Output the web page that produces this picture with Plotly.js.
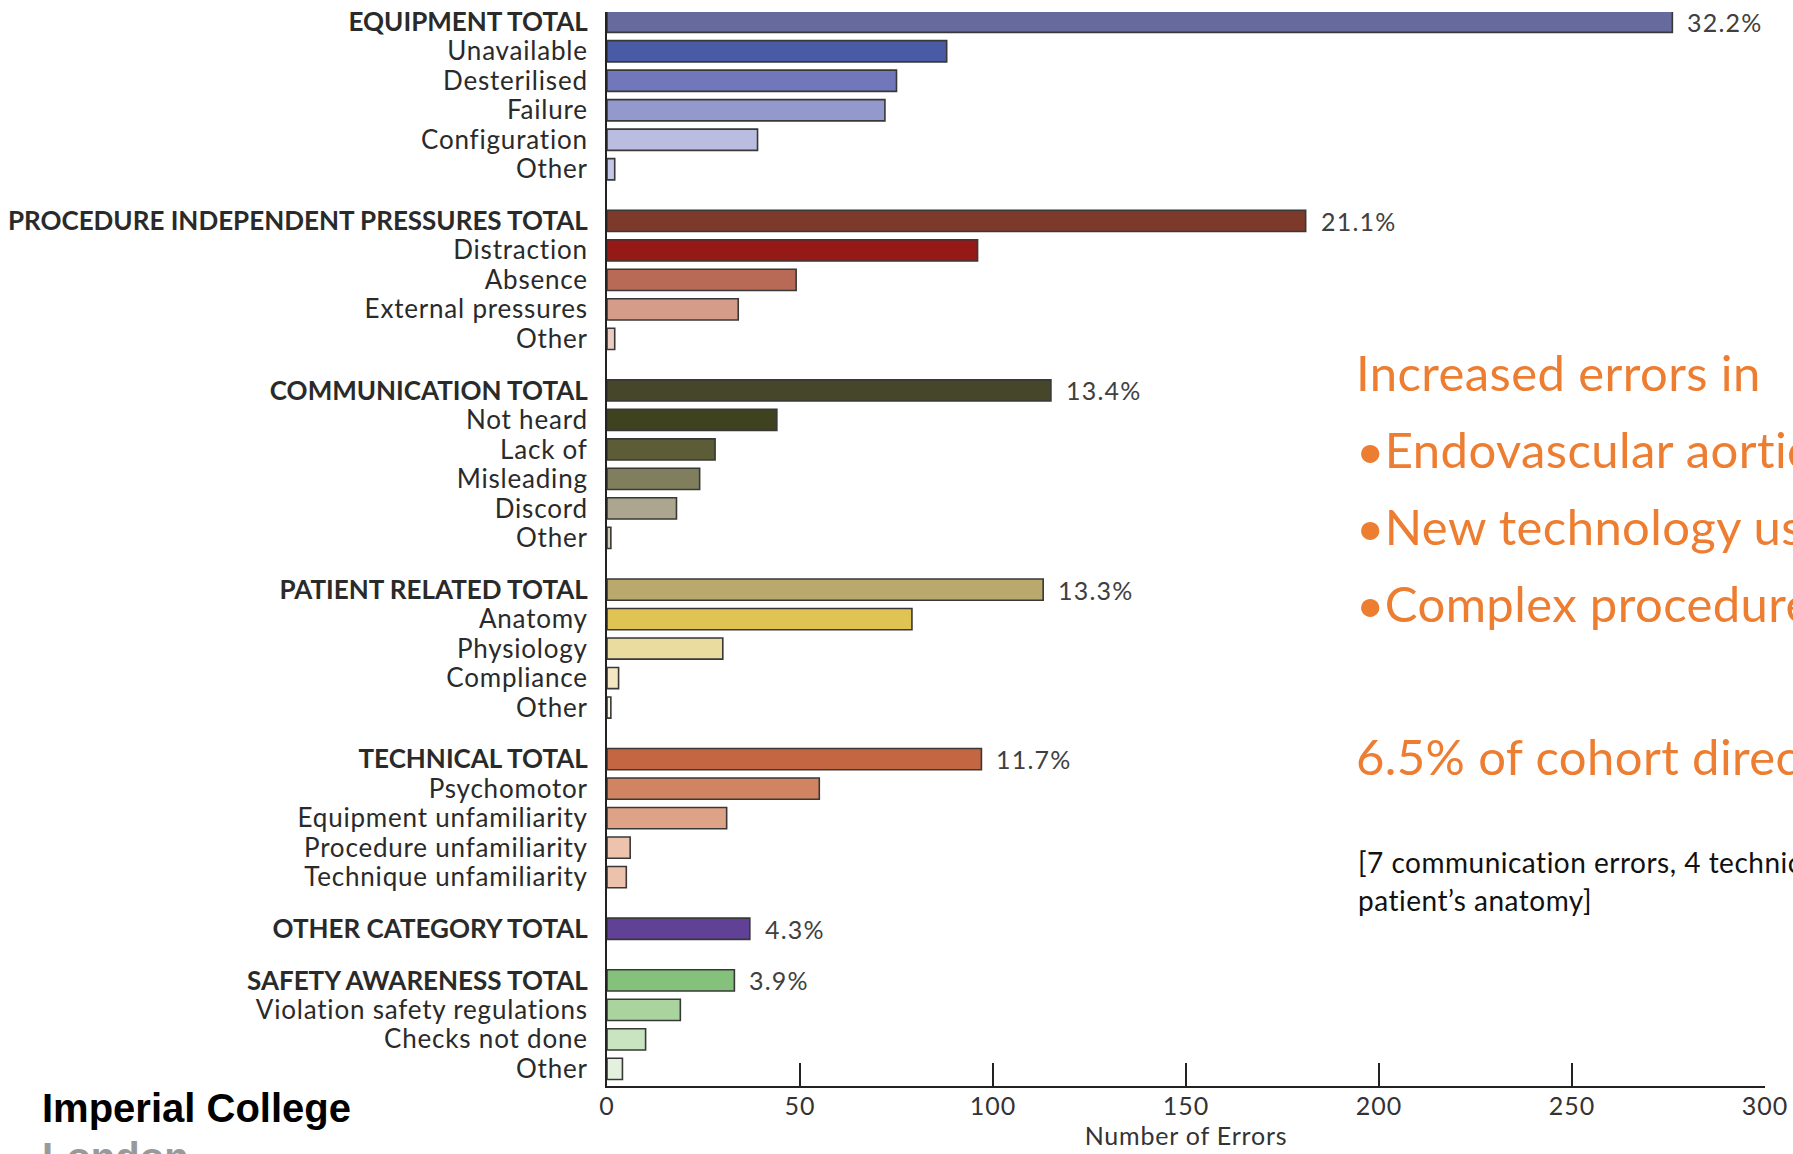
<!DOCTYPE html>
<html>
<head>
<meta charset="utf-8">
<script src="https://cdn.plot.ly/plotly-3.0.1.min.js"></script>
<style>
  html, body { margin: 0; padding: 0; background: #ffffff; }
  #chart { width: 1793px; height: 1154px; }
</style>
</head>
<body>
<div id="chart"></div>
<script>
// ---------------- DATA ----------------
const labels = [
  'EQUIPMENT TOTAL', 'Unavailable', 'Desterilised', 'Failure', 'Configuration', 'Other',
  'PROCEDURE INDEPENDENT PRESSURES TOTAL', 'Distraction', 'Absence', 'External pressures', 'Other',
  'COMMUNICATION TOTAL', 'Not heard', 'Lack of', 'Misleading', 'Discord', 'Other',
  'PATIENT RELATED TOTAL', 'Anatomy', 'Physiology', 'Compliance', 'Other',
  'TECHNICAL TOTAL', 'Psychomotor', 'Equipment unfamiliarity', 'Procedure unfamiliarity', 'Technique unfamiliarity',
  'OTHER CATEGORY TOTAL',
  'SAFETY AWARENESS TOTAL', 'Violation safety regulations', 'Checks not done', 'Other'
];
const errorCounts = [
  276, 88, 75, 72, 39, 2,
  181, 96, 49, 34, 2,
  115, 44, 28, 24, 18, 1,
  113, 79, 30, 3, 1,
  97, 55, 31, 6, 5,
  37,
  33, 19, 10, 4
];
// group index of each row (0..6); first row of each group is its TOTAL
const groupOf = [
  0, 0, 0, 0, 0, 0,
  1, 1, 1, 1, 1,
  2, 2, 2, 2, 2, 2,
  3, 3, 3, 3, 3,
  4, 4, 4, 4, 4,
  5,
  6, 6, 6, 6
];
const totalPercents = ['32.2%', '21.1%', '13.4%', '13.3%', '11.7%', '4.3%', '3.9%'];
const xTickValues = [0, 50, 100, 150, 200, 250, 300];
const xAxisTitle = 'Number of Errors';

const sideHeading = 'Increased errors in';
const sideBullets = ['•Endovascular aortic', '•New technology use', '•Complex procedures'];
const sideFinding = '6.5% of cohort directly';
const sideNote = ['[7 communication errors, 4 technical', 'patient’s anatomy]'];
const logoLines = ['Imperial College', 'London'];

// ---------------- STYLES ----------------
const barColors = [
  '#666a9c', '#4a5ba6', '#7078bb', '#9399cc', '#babce0', '#c3c6e7',
  '#7d3a2a', '#951a17', '#b86a56', '#d49c89', '#ecccc0',
  '#45462a', '#3e421e', '#5c5d36', '#807e5c', '#aba68d', '#cfcdb9',
  '#b9a96c', '#dfc453', '#eadb9e', '#f3e8c3', '#faf6e6',
  '#c46641', '#d18462', '#dea386', '#edc3ae', '#ecc2ad',
  '#614196',
  '#84c27b', '#a9d49e', '#c9e4c0', '#e4f1df'
];

const W = 1793, H = 1154;
const M = {l: 607, r: 28, t: 12, b: 68};
const PW = W - M.l - M.r, PH = H - M.t - M.b;
const GROUP_GAP = 0.75;
const FONT = 'Lato, "Open Sans", sans-serif';
const spaced = (t, ls) => '<span style="letter-spacing:' + ls + 'px">' + t + '</span>';

// row positions: consecutive rows with an extra gap between groups
const yPos = labels.map((_, i) => i + GROUP_GAP * groupOf[i]);
const isTotal = labels.map((_, i) => i === 0 || groupOf[i] !== groupOf[i - 1]);
const tickText = labels.map((l, i) => isTotal[i] ? '<b>' + l + '</b>' : spaced(l, 0.8));

const pxX = px => (px - M.l) / PW;
const pxY = py => (H - M.b - py) / PH;

const trace = {
  type: 'bar',
  orientation: 'h',
  x: errorCounts,
  y: yPos,
  width: 0.72,
  marker: {color: barColors, line: {color: '#383838', width: 1.6}},
  hoverinfo: 'skip'
};

const annotations = [];
// percentage labels on totals
let g = 0;
labels.forEach((l, i) => {
  if (isTotal[i]) {
    annotations.push({
      x: errorCounts[i], y: yPos[i], xref: 'x', yref: 'y',
      text: spaced(totalPercents[g], 1.2), showarrow: false, xanchor: 'left', yanchor: 'middle',
      xshift: 13, font: {family: FONT, size: 25, color: '#404040'}
    });
    g++;
  }
});

// right-hand side text
const orange = '#ed7d31';
const sideLines = [sideHeading].concat(sideBullets);
const sideYs = [372, 449, 526, 603];
sideLines.forEach((t, k) => {
  annotations.push({
    x: pxX(1354), y: pxY(sideYs[k]), xref: 'paper', yref: 'paper',
    text: spaced(t, 0.4), showarrow: false, xanchor: 'left', yanchor: 'middle',
    font: {family: FONT, size: 49, color: orange}
  });
});
annotations.push({
  x: pxX(1354), y: pxY(756), xref: 'paper', yref: 'paper',
  text: spaced(sideFinding, 0.4), showarrow: false, xanchor: 'left', yanchor: 'middle',
  font: {family: FONT, size: 49, color: orange}
});
[862, 900].forEach((py, k) => {
  annotations.push({
    x: pxX(1356), y: pxY(py), xref: 'paper', yref: 'paper',
    text: spaced(sideNote[k], 0.5), showarrow: false, xanchor: 'left', yanchor: 'middle',
    font: {family: FONT, size: 28, color: '#111111'}
  });
});

// logo text
annotations.push({
  x: pxX(40), y: pxY(1108), xref: 'paper', yref: 'paper',
  text: '<b>' + logoLines[0] + '</b>', showarrow: false, xanchor: 'left', yanchor: 'middle',
  font: {family: '"Liberation Sans", Arial, sans-serif', size: 40, color: '#000000'}
});
annotations.push({
  x: pxX(40), y: pxY(1157), xref: 'paper', yref: 'paper',
  text: '<b>' + logoLines[1] + '</b>', showarrow: false, xanchor: 'left', yanchor: 'middle',
  font: {family: '"Liberation Sans", Arial, sans-serif', size: 40, color: '#999999'}
});

const lastPos = yPos[yPos.length - 1];

const layout = {
  width: W, height: H,
  margin: M,
  paper_bgcolor: '#ffffff',
  plot_bgcolor: '#ffffff',
  showlegend: false,
  bargap: 0,
  xaxis: {
    range: [0, 300],
    tickvals: xTickValues,
    ticktext: xTickValues.map(v => spaced(String(v), 1)),
    ticks: 'inside', ticklen: 23, tickwidth: 2, tickcolor: '#222222',
    ticklabelstandoff: -3,
    showline: true, linecolor: '#222222', linewidth: 2,
    showgrid: false, zeroline: false,
    tickfont: {family: FONT, size: 25, color: '#333333'},
    title: {text: spaced(xAxisTitle, 0.8), font: {family: FONT, size: 25, color: '#333333'}, standoff: 2},
    automargin: false, fixedrange: true
  },
  yaxis: {
    range: [lastPos + 0.58, -0.33],
    tickmode: 'array', tickvals: yPos, ticktext: tickText,
    ticks: '', ticklabelstandoff: 12,
    showline: true, linecolor: '#222222', linewidth: 2,
    showgrid: false, zeroline: false,
    tickfont: {family: FONT, size: 26, color: '#2a2a2a'},
    automargin: false, fixedrange: true
  },
  annotations: annotations
};

Plotly.newPlot('chart', [trace], layout, {displayModeBar: false, staticPlot: true});
</script>
</body>
</html>
